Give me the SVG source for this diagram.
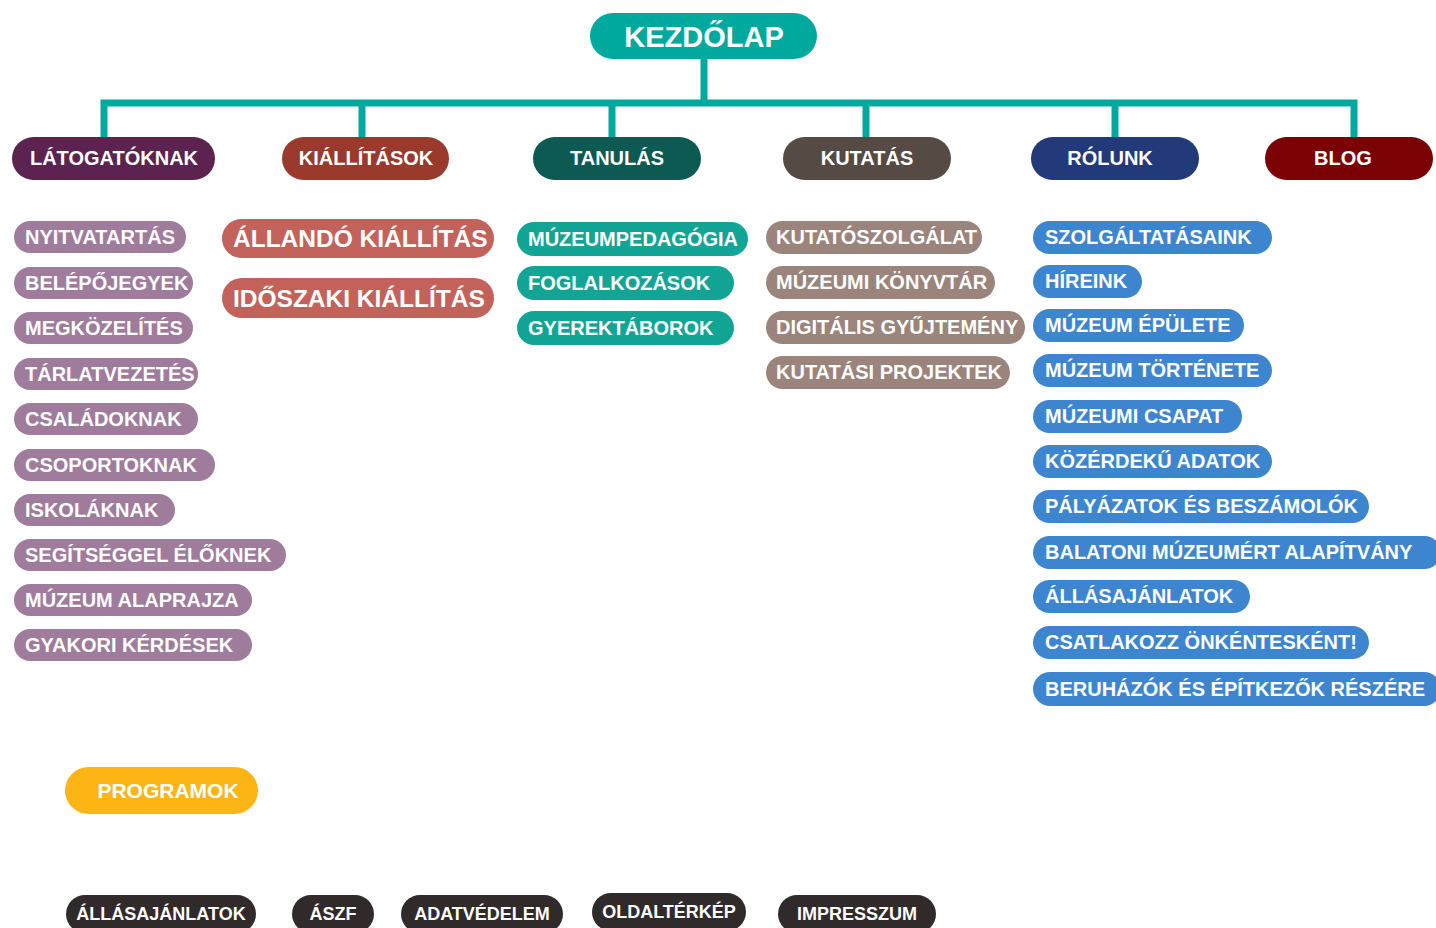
<svg xmlns="http://www.w3.org/2000/svg" width="1436" height="928" viewBox="0 0 1436 928">
<style>
text{font-family:"Liberation Sans",Arial,sans-serif;font-weight:bold;fill:#fff}
.c{text-anchor:middle}
.t20{font-size:20px}
.t18{font-size:18px}
.lil{fill:#9F7B9C}
.sal{fill:#C3625B}
.tea{fill:#12A596}
.tau{fill:#9A847B}
.blu{fill:#3D86CF}
.drk{fill:#302A2A}
.con{fill:none;stroke:#00A99D;stroke-width:7;stroke-linecap:square}
</style>
<rect width="1436" height="928" fill="#fff"/>
<g id="connectors">
<path class="con" d="M704 60 V103 M104 103 H1354 M104 103 V137 M362 103 V137 M612 103 V137 M866 103 V137 M1115 103 V137 M1354 103 V137"/>
</g>
<g id="kezdolap"><rect x="590" y="13" width="227" height="46" rx="23" fill="#00A99D"/><text class="c" x="704" y="47" style="font-size:29px">KEZDŐLAP</text></g>
<g id="latogatoknak"><rect x="12" y="137" width="203" height="43" rx="21.5" fill="#5C2350"/><text class="c t20" x="114" y="165">LÁTOGATÓKNAK</text></g>
<g id="kiallitasok"><rect x="282" y="137" width="167" height="43" rx="21.5" fill="#9A3A2C"/><text class="c t20" x="366" y="165">KIÁLLÍTÁSOK</text></g>
<g id="tanulas"><rect x="533" y="137" width="168" height="43" rx="21.5" fill="#0C5A52"/><text class="c t20" x="617" y="165">TANULÁS</text></g>
<g id="kutatas"><rect x="783" y="137" width="168" height="43" rx="21.5" fill="#564A45"/><text class="c t20" x="867" y="165">KUTATÁS</text></g>
<g id="rolunk"><rect x="1031" y="137" width="168" height="43" rx="21.5" fill="#22397A"/><text class="c t20" x="1110" y="165">RÓLUNK</text></g>
<g id="blog"><rect x="1265" y="137" width="168" height="43" rx="21.5" fill="#7B0204"/><text class="c t20" x="1343" y="165">BLOG</text></g>

<g id="nyitvatartas"><rect class="lil" x="14" y="221" width="172" height="32" rx="16"/><text class="t20" x="25" y="244">NYITVATARTÁS</text></g>
<g id="belepojegyek"><rect class="lil" x="14" y="267" width="179" height="32" rx="16"/><text class="t20" x="25" y="290">BELÉPŐJEGYEK</text></g>
<g id="megkozelites"><rect class="lil" x="14" y="312" width="179" height="32" rx="16"/><text class="t20" x="25" y="335">MEGKÖZELÍTÉS</text></g>
<g id="tarlatvezetes"><rect class="lil" x="14" y="358" width="184" height="32" rx="16"/><text class="t20" x="25" y="381">TÁRLATVEZETÉS</text></g>
<g id="csaladoknak"><rect class="lil" x="14" y="403" width="184" height="32" rx="16"/><text class="t20" x="25" y="426">CSALÁDOKNAK</text></g>
<g id="csoportoknak"><rect class="lil" x="14" y="449" width="201" height="32" rx="16"/><text class="t20" x="25" y="472">CSOPORTOKNAK</text></g>
<g id="iskolaknak"><rect class="lil" x="14" y="494" width="161" height="32" rx="16"/><text class="t20" x="25" y="517">ISKOLÁKNAK</text></g>
<g id="segitseggel"><rect class="lil" x="14" y="539" width="272" height="32" rx="16"/><text class="t20" x="25" y="562">SEGÍTSÉGGEL ÉLŐKNEK</text></g>
<g id="alaprajz"><rect class="lil" x="14" y="584" width="238" height="32" rx="16"/><text class="t20" x="25" y="607">MÚZEUM ALAPRAJZA</text></g>
<g id="gyik"><rect class="lil" x="14" y="629" width="238" height="32" rx="16"/><text class="t20" x="25" y="652">GYAKORI KÉRDÉSEK</text></g>

<g id="allando"><rect class="sal" x="222" y="219" width="272" height="39" rx="19.5"/><text x="233" y="247" style="font-size:24.5px">ÁLLANDÓ KIÁLLÍTÁS</text></g>
<g id="idoszaki"><rect class="sal" x="222" y="278" width="272" height="40" rx="20"/><text x="233" y="307" style="font-size:24.5px">IDŐSZAKI KIÁLLÍTÁS</text></g>

<g id="muzeumpedagogia"><rect class="tea" x="517" y="222" width="231" height="34" rx="17"/><text class="t20" x="528" y="246">MÚZEUMPEDAGÓGIA</text></g>
<g id="foglalkozasok"><rect class="tea" x="517" y="266" width="217" height="34" rx="17"/><text class="t20" x="528" y="290">FOGLALKOZÁSOK</text></g>
<g id="gyerektaborok"><rect class="tea" x="517" y="311" width="217" height="34" rx="17"/><text class="t20" x="528" y="335">GYEREKTÁBOROK</text></g>

<g id="kutatoszolgalat"><rect class="tau" x="766" y="221" width="216" height="33" rx="16.5"/><text class="t20" x="776" y="244">KUTATÓSZOLGÁLAT</text></g>
<g id="konyvtar"><rect class="tau" x="766" y="266" width="229" height="33" rx="16.5"/><text class="t20" x="776" y="289">MÚZEUMI KÖNYVTÁR</text></g>
<g id="digitalis"><rect class="tau" x="766" y="311" width="259" height="33" rx="16.5"/><text class="t20" x="776" y="334">DIGITÁLIS GYŰJTEMÉNY</text></g>
<g id="projektek"><rect class="tau" x="766" y="356" width="244" height="33" rx="16.5"/><text class="t20" x="776" y="379">KUTATÁSI PROJEKTEK</text></g>

<g id="szolgaltatasaink"><rect class="blu" x="1033" y="221" width="239" height="33" rx="16.5"/><text class="t20" x="1045" y="244">SZOLGÁLTATÁSAINK</text></g>
<g id="hireink"><rect class="blu" x="1033" y="265" width="109" height="33" rx="16.5"/><text class="t20" x="1045" y="288">HÍREINK</text></g>
<g id="epulete"><rect class="blu" x="1033" y="309" width="211" height="33" rx="16.5"/><text class="t20" x="1045" y="332">MÚZEUM ÉPÜLETE</text></g>
<g id="tortenete"><rect class="blu" x="1033" y="354" width="239" height="33" rx="16.5"/><text class="t20" x="1045" y="377">MÚZEUM TÖRTÉNETE</text></g>
<g id="csapat"><rect class="blu" x="1033" y="400" width="209" height="33" rx="16.5"/><text class="t20" x="1045" y="423">MÚZEUMI CSAPAT</text></g>
<g id="kozerdeku"><rect class="blu" x="1033" y="445" width="239" height="33" rx="16.5"/><text class="t20" x="1045" y="468">KÖZÉRDEKŰ ADATOK</text></g>
<g id="palyazatok"><rect class="blu" x="1033" y="490" width="336" height="33" rx="16.5"/><text class="t20" x="1045" y="513">PÁLYÁZATOK ÉS BESZÁMOLÓK</text></g>
<g id="alapitvany"><rect class="blu" x="1033" y="536" width="408" height="33" rx="16.5"/><text class="t20" x="1045" y="559">BALATONI MÚZEUMÉRT ALAPÍTVÁNY</text></g>
<g id="allasajanlatok"><rect class="blu" x="1033" y="580" width="217" height="33" rx="16.5"/><text class="t20" x="1045" y="603">ÁLLÁSAJÁNLATOK</text></g>
<g id="csatlakozz"><rect class="blu" x="1033" y="626" width="336" height="33" rx="16.5"/><text class="t20" x="1045" y="649">CSATLAKOZZ ÖNKÉNTESKÉNT!</text></g>
<g id="beruhazok"><rect class="blu" x="1033" y="672" width="408" height="34" rx="17"/><text class="t20" x="1045" y="696">BERUHÁZÓK ÉS ÉPÍTKEZŐK RÉSZÉRE</text></g>

<g id="programok"><rect x="65" y="767" width="193" height="47" rx="23.5" fill="#FDB515"/><text class="c" x="168" y="798" style="font-size:21px">PROGRAMOK</text></g>

<g id="f-allas"><rect class="drk" x="66" y="895" width="190" height="38" rx="19"/><text class="c t18" x="161" y="920">ÁLLÁSAJÁNLATOK</text></g>
<g id="f-aszf"><rect class="drk" x="292" y="895" width="82" height="38" rx="19"/><text class="c t18" x="333" y="920">ÁSZF</text></g>
<g id="f-adatvedelem"><rect class="drk" x="401" y="895" width="162" height="38" rx="19"/><text class="c t18" x="482" y="920">ADATVÉDELEM</text></g>
<g id="f-oldalterkep"><rect class="drk" x="592" y="893" width="154" height="38" rx="19"/><text class="c t18" x="669" y="918">OLDALTÉRKÉP</text></g>
<g id="f-impresszum"><rect class="drk" x="778" y="895" width="158" height="38" rx="19"/><text class="c t18" x="857" y="920">IMPRESSZUM</text></g>
</svg>
